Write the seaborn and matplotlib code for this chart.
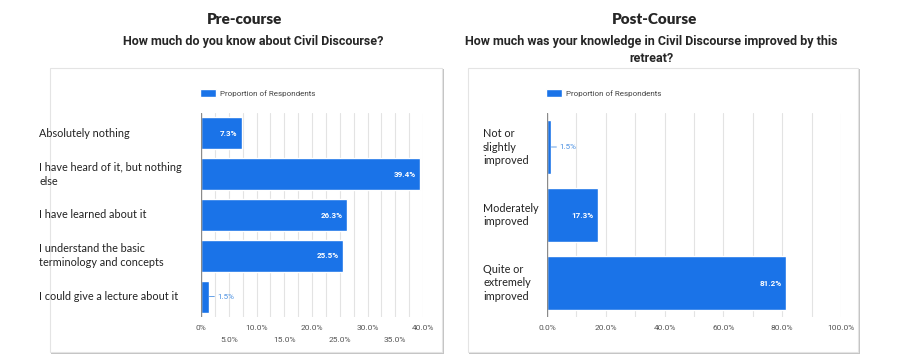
import pandas as pd
import seaborn as sns
import matplotlib.pyplot as plt
from matplotlib.patches import Rectangle
from matplotlib.transforms import blended_transform_factory

# data
pre_labels = ['Absolutely nothing', 'I have heard of it, but nothing\nelse',
              'I have learned about it', 'I understand the basic\nterminology and concepts',
              'I could give a lecture about it']
pre_values = [7.3, 39.4, 26.3, 25.5, 1.5]
post_labels = ['Not or\nslightly\nimproved', 'Moderately\nimproved', 'Quite or\nextremely\nimproved']
post_values = [1.5, 17.3, 81.2]

pre_ticks_top = [0, 10, 20, 30, 40]
pre_ticks_bottom = [5, 15, 25, 35]
post_ticks = [0, 20, 40, 60, 80, 100]

BLUE = '#1a73e8'
LIGHT_BLUE = '#4a90e2'
W, H = 905, 360

sns.set_style('white')
plt.rcParams['font.family'] = ['Roboto', 'DejaVu Sans']

fig = plt.figure(figsize=(W / 100, H / 100), dpi=100)


def fx(px):
    return px / W


def fy(py):
    return 1 - py / H


# panel boxes with a faint shadow
for x0, x1 in [(50, 442), (468, 858)]:
    fig.patches.append(Rectangle((fx(x0 + 1), fy(354)), fx(x1 - x0 + 1), fy(69) - fy(354),
                                 transform=fig.transFigure, facecolor='#c4c4c4',
                                 edgecolor='none', zorder=0))
    fig.patches.append(Rectangle((fx(x0), fy(352)), fx(x1 - x0), fy(68) - fy(352),
                                 transform=fig.transFigure, facecolor='white',
                                 edgecolor='#e4e4e4', lw=0.8, zorder=1))

# titles
fig.text(fx(245), fy(20), 'Pre-course', ha='center', va='center', fontsize=11,
         fontweight='heavy', family='Lato')
fig.text(fx(253), fy(42), 'How much do you know about Civil Discourse?', ha='center',
         va='center', fontsize=9, fontweight='bold', family='Roboto')
fig.text(fx(655), fy(20), 'Post-Course', ha='center', va='center', fontsize=11,
         fontweight='heavy', family='Lato')
fig.text(fx(651), fy(50),
         'How much was your knowledge in Civil Discourse improved by this\nretreat?',
         ha='center', va='center', fontsize=9, fontweight='bold', linespacing=1.3,
         family='Roboto')


def draw_panel(rect, labels, values, xmax, grid_step, label_x, legend_x, bar_w):
    ax = fig.add_axes(rect)
    ax.set_zorder(2)
    ax.patch.set_alpha(0)
    df = pd.DataFrame({'label': labels, 'value': values})
    sns.barplot(data=df, x='value', y='label', color=BLUE, saturation=1, width=bar_w,
                ax=ax, label='Proportion of Respondents', zorder=3)
    ax.set_xlim(0, xmax)
    g = 0.0
    while g <= xmax + 1e-9:
        if g > 0:
            ax.axvline(g, color='#e3e3e3', lw=0.8, zorder=0)
        g += grid_step
    ax.axvline(0, color='#8a8a8a', lw=1.0, zorder=4)
    for s in ax.spines.values():
        s.set_visible(False)
    ax.set_xlabel('')
    ax.set_ylabel('')
    ax.set_yticks(range(len(labels)))
    ax.set_yticklabels([])
    ax.tick_params(axis='y', length=0)
    tr = blended_transform_factory(fig.transFigure, ax.transData)
    for i, lab in enumerate(labels):
        ax.text(fx(label_x), i, lab, transform=tr, ha='left', va='center', fontsize=7.8,
                family='Lato', color='#222222', linespacing=1.3)
    for i, v in enumerate(values):
        if v < 5:
            ax.annotate(f'{v:.1f}%', xy=(v, i), xytext=(6, 0), textcoords='offset points',
                        ha='left', va='center', fontsize=5.8, color=LIGHT_BLUE,
                        arrowprops=dict(arrowstyle='-', color=LIGHT_BLUE, lw=0.6,
                                        shrinkA=0, shrinkB=0))
        else:
            ax.annotate(f'{v:.1f}%', xy=(v, i), xytext=(-3, 0), textcoords='offset points',
                        ha='right', va='center', fontsize=5.8, color='white',
                        fontweight='bold')
    leg = ax.legend(loc='center left', bbox_to_anchor=(fx(legend_x), fy(93)),
                    bbox_transform=fig.transFigure, frameon=False, fontsize=5.8,
                    handlelength=2.0, handleheight=1.1, handletextpad=0.5,
                    borderaxespad=0, borderpad=0)
    for t in leg.get_texts():
        t.set_color('#444444')
    ax.tick_params(axis='x', which='both', length=0, labelsize=6, labelcolor='#555555')
    return ax


ax1 = draw_panel([fx(201), fy(317), fx(423 - 201), fy(113) - fy(317)], pre_labels,
                 pre_values, 40, 2.5, 39, 200, 0.78)
ax1.set_xticks(pre_ticks_top)
ax1.set_xticklabels(['0%'] + [f'{t:.1f}%' for t in pre_ticks_top[1:]])
ax1.set_xticks(pre_ticks_bottom, minor=True)
ax1.set_xticklabels([f'{t:.1f}%' for t in pre_ticks_bottom], minor=True)
ax1.tick_params(axis='x', which='major', pad=6)
ax1.tick_params(axis='x', which='minor', pad=14.5)

ax2 = draw_panel([fx(547), fy(317), fx(841 - 547), fy(113) - fy(317)], post_labels,
                 post_values, 100, 10, 483, 546, 0.8)
ax2.set_xticks(post_ticks)
ax2.set_xticklabels([f'{t:.1f}%' for t in post_ticks])
ax2.tick_params(axis='x', which='major', pad=6)

fig.savefig('out.png', dpi=100)
